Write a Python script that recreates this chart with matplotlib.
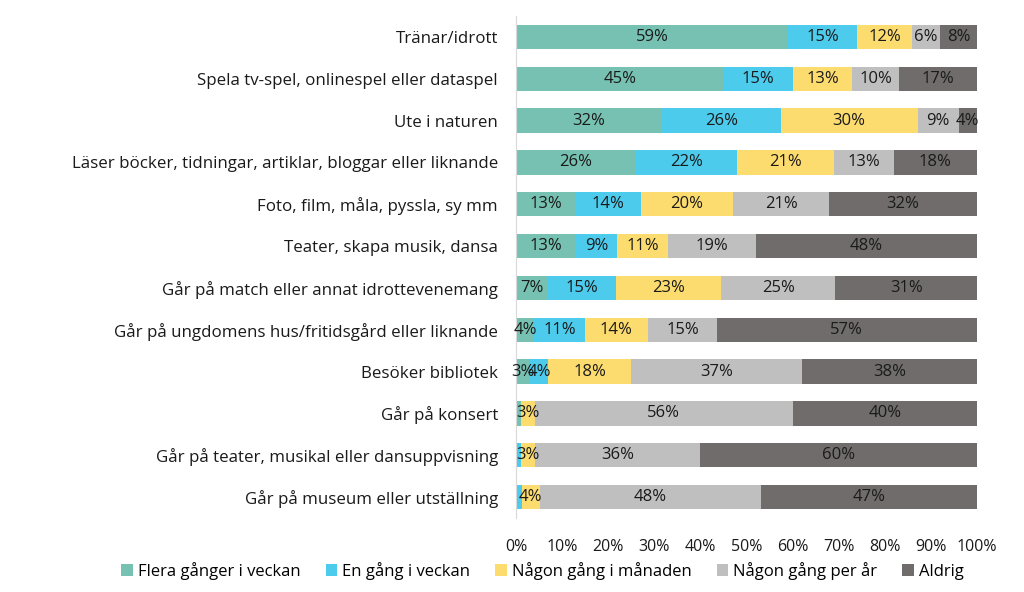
import matplotlib.pyplot as plt
import numpy as np

plt.rcParams['font.family'] = ['Open Sans', 'DejaVu Sans']

# Activities, top to bottom
activities = [
    "Tränar/idrott",
    "Spela tv-spel, onlinespel eller dataspel",
    "Ute i naturen",
    "Läser böcker, tidningar, artiklar, bloggar eller liknande",
    "Foto, film, måla, pyssla, sy mm",
    "Teater, skapa musik, dansa",
    "Går på match eller annat idrottevenemang",
    "Går på ungdomens hus/fritidsgård eller liknande",
    "Besöker bibliotek",
    "Går på konsert",
    "Går på teater, musikal eller dansuppvisning",
    "Går på museum eller utställning",
]

series_names = ["Flera gånger i veckan", "En gång i veckan", "Någon gång i månaden",
                "Någon gång per år", "Aldrig"]

flera = [59, 45, 32, 26, 13, 13, 7, 4, 3, 1, 0.5, 0.3]
en_gang = [15, 15, 26, 22, 14, 9, 15, 11, 4, 0, 0.5, 0.9]
manad = [12, 13, 30, 21, 20, 11, 23, 14, 18, 3, 3, 4]
per_ar = [6, 10, 9, 13, 21, 19, 25, 15, 37, 56, 36, 48]
aldrig = [8, 17, 4, 18, 32, 48, 31, 57, 38, 40, 60, 47]

colors = ["#76c1b1", "#4ccbec", "#fddc6f", "#bfbfbf", "#706c6c"]

values = np.array([flera, en_gang, manad, per_ar, aldrig], dtype=float)
shares = values / values.sum(axis=0) * 100

fig = plt.figure(figsize=(10.24, 5.92), dpi=100)
ax = fig.add_axes([0.504, 0.125, 0.450, 0.848])

y = np.arange(len(activities))
left = np.zeros(len(activities))
for i, name in enumerate(series_names):
    ax.barh(y, shares[i], left=left, height=0.58, color=colors[i], label=name)
    for j in range(len(activities)):
        v = values[i, j]
        if v >= 3:
            ax.text(left[j] + shares[i, j] / 2, y[j], f"{v:.0f}%",
                    ha='center', va='center', fontsize=12, color='#1a1a1a')
    left += shares[i]

ax.set_ylim(len(activities) - 0.5, -0.5)
ax.set_xlim(0, 100)
ax.set_yticks(y)
ax.set_yticklabels(activities, fontsize=12.2, color='#1a1a1a')
ax.set_xticks(np.arange(0, 101, 10))
ax.set_xticklabels([f"{t}%" for t in range(0, 101, 10)], fontsize=11.5, color='#1a1a1a')
ax.tick_params(axis='both', length=0)
ax.tick_params(axis='y', pad=13)
ax.tick_params(axis='x', pad=15)
for s in ['top', 'right', 'bottom']:
    ax.spines[s].set_visible(False)
ax.spines['left'].set_color('#d9d9d9')

fig.legend(loc='lower center', bbox_to_anchor=(0.53, -0.005), ncol=5, frameon=False,
           fontsize=12, handlelength=0.7, handleheight=0.7, handletextpad=0.3,
           columnspacing=1.5)

fig.savefig("out.png", dpi=100)
